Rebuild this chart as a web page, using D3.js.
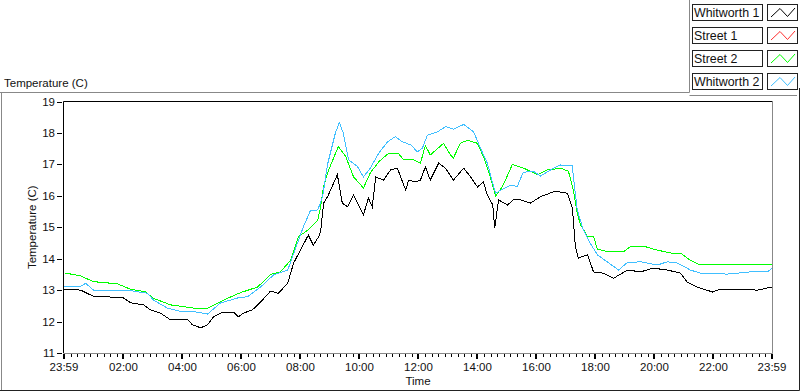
<!DOCTYPE html>
<html>
<head>
<meta charset="utf-8">
<script src="https://cdn.jsdelivr.net/npm/d3@7"></script>
<style>
  body { margin: 0; background: #fff; }
  svg { display: block; font-family: "Liberation Sans", Arial, sans-serif; }
</style>
</head>
<body>
<script>
// data
const seriesNames = ["Whitworth 1", "Street 1", "Street 2", "Whitworth 2"];
const seriesColors = ["#000000", "#ff3030", "#00ff00", "#40bfff"];

const w1Times = ["00:00","00:33","00:59","01:34","02:00","02:14","02:41","02:55","03:15","03:36","03:50","04:10","04:20","04:37","04:51","05:03","05:17","05:44","05:54","06:04","06:22","06:39","06:59","07:15","07:34","07:46","08:00","08:16","08:26","08:37","08:41","08:47","08:55","09:15","09:25","09:36","09:48","10:08","10:18","10:26","10:33","10:49","11:03","11:17","11:34","11:40","11:54","12:04","12:14","12:24","12:41","12:55","13:11","13:32","13:46","14:00","14:12","14:20","14:31","14:35","14:43","15:01","15:13","15:27","15:48","16:08","16:35","16:49","17:03","17:13","17:19","17:25","17:44","17:56","18:16","18:37","19:05","19:32","19:56","20:26","20:53","21:07","21:27","21:58","22:14","22:49","23:30","23:59"];
const w1Temps = [13.03,13.0,12.8,12.78,12.75,12.6,12.53,12.37,12.27,12.05,12.08,12.08,11.9,11.8,11.9,12.15,12.27,12.3,12.15,12.27,12.37,12.62,12.97,12.9,13.22,13.86,14.28,14.75,14.43,14.7,14.86,15.77,15.97,16.67,15.77,15.65,16.03,15.39,15.93,15.65,16.6,16.5,16.82,16.88,16.18,16.5,16.44,16.5,16.92,16.5,17.04,16.88,16.5,16.88,16.6,16.28,16.44,16.03,15.71,14.98,15.87,15.71,15.87,15.87,15.77,15.97,16.13,16.12,16.08,15.6,14.4,14.02,14.12,13.58,13.54,13.38,13.64,13.58,13.7,13.64,13.54,13.25,13.1,12.94,13.03,13.03,13.0,13.1];

const s1Times = [];
const s1Temps = [];

const s2Times = ["00:00","00:33","00:59","01:48","02:14","02:45","02:59","03:36","04:22","04:51","05:23","05:58","06:33","06:59","07:19","07:40","07:56","08:14","08:35","08:41","08:47","08:55","09:17","09:32","09:48","10:08","10:22","10:39","10:59","11:19","11:30","11:50","12:04","12:14","12:24","12:51","13:05","13:11","13:25","13:40","14:00","14:12","14:26","14:37","14:51","15:11","15:34","16:02","16:22","16:49","17:05","17:15","17:23","17:29","17:44","17:56","18:04","18:26","18:57","19:11","19:38","19:58","20:33","20:53","21:13","21:33","22:28","23:59"];
const s2Temps = [13.55,13.45,13.27,13.2,13.03,12.95,12.75,12.53,12.43,12.43,12.68,12.92,13.1,13.5,13.58,13.95,14.7,14.9,15.23,15.65,16.3,16.73,17.57,17.25,16.6,16.25,16.73,17.08,17.35,17.35,17.14,17.14,17.04,17.6,17.3,17.67,17.3,17.2,17.67,17.77,17.67,17.25,16.6,16.0,16.3,17.0,16.88,16.67,16.82,16.88,16.78,16.18,15.45,15.1,14.7,14.7,14.3,14.22,14.22,14.38,14.4,14.3,14.18,14.18,13.95,13.8,13.8,13.8];

const w2Times = ["00:00","00:33","00:43","00:59","02:08","02:49","03:01","03:29","03:56","04:22","04:51","05:17","05:52","06:12","06:39","07:05","07:34","07:54","08:06","08:20","08:35","08:45","08:55","09:11","09:19","09:27","09:38","09:56","10:08","10:22","10:39","10:57","11:13","11:27","11:44","11:58","12:08","12:18","12:39","12:55","13:11","13:32","13:52","14:06","14:20","14:31","14:37","14:47","15:07","15:21","15:33","15:54","16:08","16:35","16:49","17:13","17:15","17:23","17:35","17:49","18:04","18:30","18:47","19:05","19:32","19:46","20:06","20:26","20:47","21:13","21:33","22:28","23:15","23:50","23:59"];
const w2Temps = [13.1,13.12,13.22,13.0,13.0,12.9,12.68,12.43,12.32,12.32,12.24,12.59,12.75,12.79,13.1,13.48,13.64,14.5,15.02,15.52,15.55,15.97,17.0,18.0,18.33,18.0,17.14,16.93,16.6,16.88,17.35,17.72,17.88,17.72,17.62,17.4,17.52,17.93,18.04,18.2,18.12,18.27,18.04,17.52,17.04,16.4,16.08,16.18,16.34,16.3,16.75,16.78,16.63,16.88,16.98,16.95,16.6,15.55,14.92,14.5,14.12,13.83,13.64,13.88,13.9,13.86,13.8,13.9,13.86,13.64,13.54,13.51,13.58,13.58,13.7];

const xTickLabels = ["23:59","02:00","04:00","06:00","08:00","10:00","12:00","14:00","16:00","18:00","20:00","22:00","23:59"];
const yTicks = [11,12,13,14,15,16,17,18,19];

const W = 800, H = 392;
const pLeft = 63.5, pRight = 772.5, pTop = 101.5, pBottom = 353;

const toMin = s => { const p = s.split(":"); return +p[0]*60 + +p[1]; };
// the first label is 23:59 of the day before
const tickMins = xTickLabels.map((s, i) => i === 0 ? -1 : toMin(s));

const x = d3.scaleLinear().domain([-1, 1439]).range([pLeft + 0.5, pRight - 0.5]);
const y = d3.scaleLinear().domain([11, 19]).range([pBottom, pTop]);

const svg = d3.select("body").append("svg").attr("width", W).attr("height", H);

// outer frame
const frame = svg.append("g").attr("fill", "none");
frame.append("path").attr("d", "M0,92.5H689.5V0").attr("stroke", "#888");
frame.append("path").attr("d", "M689.5,95.5H797").attr("stroke", "#888");
frame.append("path").attr("d", "M1.5,92.5V391").attr("stroke", "#888");
frame.append("path").attr("d", "M0,390.5H799.5V88").attr("stroke", "#222");

svg.append("text").attr("x", 4).attr("y", 86.5)
  .attr("font-size", 11.5).attr("fill", "#111").text("Temperature (C)");

// plot area frame
svg.append("path").attr("d", `M${pLeft},${pBottom}V${pTop}H${pRight}`)
  .attr("fill", "none").attr("stroke", "#000");
svg.append("path").attr("d", `M${pRight},${pTop}V${pBottom + 0.5}H${pLeft}`)
  .attr("fill", "none").attr("stroke", "#888");

// y axis
const yAxis = svg.append("g").attr("font-size", 11.5);
yAxis.selectAll("line").data(yTicks).join("line")
  .attr("x1", 57).attr("x2", 62)
  .attr("y1", d => Math.round(y(d)) + 0.5).attr("y2", d => Math.round(y(d)) + 0.5)
  .attr("stroke", "#000");
yAxis.selectAll("text").data(yTicks).join("text")
  .attr("x", 55).attr("y", d => y(d) + 4)
  .attr("text-anchor", "end").attr("fill", "#111").text(d => d);

svg.append("text")
  .attr("transform", `translate(36,${(pTop + pBottom) / 2}) rotate(-90)`)
  .attr("text-anchor", "middle").attr("font-size", 11.5).attr("fill", "#111")
  .text("Temperature (C)");

// x axis: majors every 2 h, 8 minors between each pair
const minors = [];
for (let i = 0; i < tickMins.length - 1; i++) {
  const a = tickMins[i], b = tickMins[i + 1];
  for (let k = 1; k <= 8; k++) minors.push(a + k * (b - a) / 9);
}
const xAxis = svg.append("g");
xAxis.selectAll(".minor").data(minors).join("line").attr("class", "minor")
  .attr("x1", d => Math.round(x(d)) + 0.5).attr("x2", d => Math.round(x(d)) + 0.5)
  .attr("y1", 354).attr("y2", 357).attr("stroke", "#000");
xAxis.selectAll(".major").data(tickMins).join("rect").attr("class", "major")
  .attr("x", d => Math.round(x(d)) - 1).attr("y", 354)
  .attr("width", 2).attr("height", 5).attr("fill", "#000");
xAxis.selectAll("text").data(xTickLabels).join("text")
  .attr("x", (d, i) => x(tickMins[i])).attr("y", 371)
  .attr("text-anchor", "middle").attr("font-size", 11.5).attr("fill", "#111")
  .text(d => d);

svg.append("text").attr("x", (pLeft + pRight) / 2).attr("y", 385)
  .attr("text-anchor", "middle").attr("font-size", 11.5).attr("fill", "#111")
  .text("Time");

// lines
svg.append("clipPath").attr("id", "plot").append("rect")
  .attr("x", pLeft + 0.5).attr("y", pTop + 0.5)
  .attr("width", pRight - pLeft - 1).attr("height", pBottom - pTop - 1);

const series = [
  { times: w1Times, temps: w1Temps },
  { times: s1Times, temps: s1Temps },
  { times: s2Times, temps: s2Temps },
  { times: w2Times, temps: w2Temps }
];
const line = d3.line().x(d => x(d[0])).y(d => y(d[1]));
svg.append("g").attr("clip-path", "url(#plot)")
  .selectAll("path").data(series).join("path")
  .attr("d", s => s.times.length ? line(s.times.map((t, i) => [toMin(t), s.temps[i]])) : null)
  .attr("fill", "none")
  .attr("stroke", (s, i) => seriesColors[i])
  .attr("stroke-width", 1)
  .attr("shape-rendering", "crispEdges");

// legend
const leg = svg.append("g").selectAll("g").data(seriesNames).join("g")
  .attr("transform", (d, i) => `translate(0,${i * 23})`);
leg.append("rect").attr("x", 692.5).attr("y", 4.5).attr("width", 70).attr("height", 16)
  .attr("fill", "#fff").attr("stroke", "#222");
leg.append("text").attr("x", 694).attr("y", 16.5).attr("font-size", 12.4)
  .attr("fill", "#111").text(d => d);
leg.append("rect").attr("x", 767.5).attr("y", 4.5).attr("width", 30).attr("height", 16)
  .attr("fill", "#fff").attr("stroke", "#222");
leg.append("path").attr("d", "M771,17L780,8.5L787.5,16.5L795,8")
  .attr("fill", "none").attr("stroke", (d, i) => seriesColors[i]);
</script>
</body>
</html>
